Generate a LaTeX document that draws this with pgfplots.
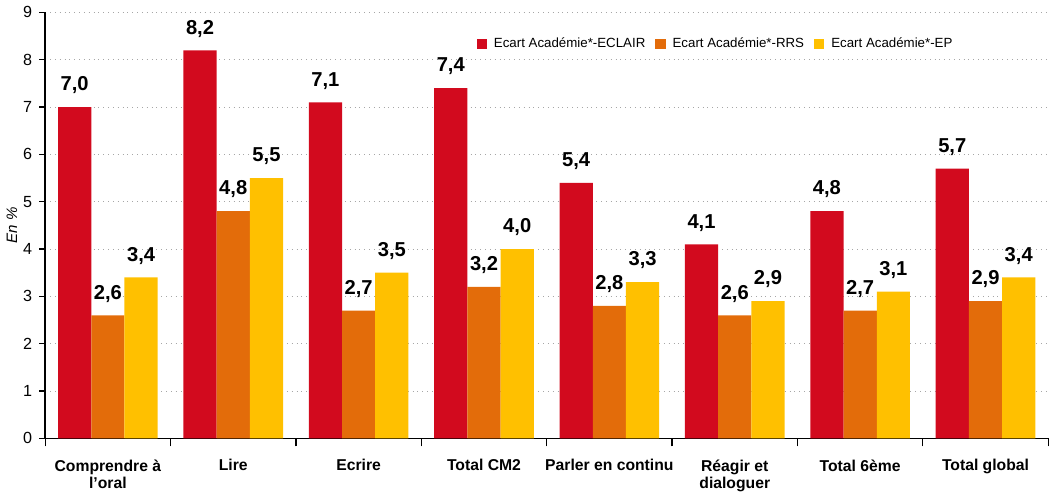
\documentclass[border=0pt]{standalone}
\usepackage{pgfplots}
\pgfplotsset{compat=1.18}
\usepackage{fontspec}
\setmainfont{Liberation Sans}
\definecolor{cRed}{HTML}{D20A1E}
\definecolor{cOrange}{HTML}{E36C0A}
\definecolor{cYellow}{HTML}{FFC000}
\begin{document}
\begin{tikzpicture}
\begin{axis}[
  scale only axis,
  width=498pt, height=211.5pt,
  xmin=-0.5, xmax=7.5,
  ymin=0, ymax=9,
  ytick={0,1,...,9},
  axis lines*=left,
  axis line style={black, line width=0.8pt},
  ymajorgrids,
  grid style={gray!70, dotted, line width=0.5pt},
  xtick={0,...,7},
  xticklabels={{Comprendre à\\l'oral},Lire,Ecrire,Total CM2,Parler en continu,{Réagir et\\dialoguer},Total 6ème,Total global},
  xticklabel style={font=\fontsize{7.8}{8.6}\selectfont\bfseries, align=center, anchor=north, yshift=-4pt},
  major x tick style={draw=none},
  minor xtick={-0.5,0.5,...,7.5},
  minor x tick style={black, line width=0.6pt},
  minor tick length=4pt,
  tick align=outside,
  major y tick style={black, line width=0.6pt},
  major tick length=3pt,
  yticklabel style={font=\fontsize{8}{9}\selectfont},
  /pgf/number format/assume math mode=true,
  ylabel={\itshape En \%},
  ylabel style={font=\fontsize{7.5}{9}\selectfont, yshift=-4pt},
  ybar, bar width=0.265,
  nodes near coords={\pgfmathprintnumber[fixed,fixed zerofill,precision=1,use comma,assume math mode=true]{\pgfplotspointmeta}},
  nodes near coords style={font=\fontsize{10}{10}\selectfont\bfseries, yshift=3pt},
  legend columns=3,
  legend style={at={(0.915,0.925)}, anchor=east, draw=none, fill=white,
    font=\fontsize{6.6}{8}\selectfont, column sep=1.5pt,
    /tikz/every even column/.append style={column sep=3pt}},
  legend image code/.code={\fill[#1] (0pt,-2.5pt) rectangle (5pt,2.5pt);},
]
\addplot[fill=cRed, draw=none, bar shift=-0.265] coordinates {(0,7.0) (1,8.2) (2,7.1) (3,7.4) (4,5.4) (5,4.1) (6,4.8) (7,5.7)};
\addplot[fill=cOrange, draw=none, bar shift=0] coordinates {(0,2.6) (1,4.8) (2,2.7) (3,3.2) (4,2.8) (5,2.6) (6,2.7) (7,2.9)};
\addplot[fill=cYellow, draw=none, bar shift=0.265] coordinates {(0,3.4) (1,5.5) (2,3.5) (3,4.0) (4,3.3) (5,2.9) (6,3.1) (7,3.4)};
\legend{Ecart Académie*-ECLAIR, Ecart Académie*-RRS, Ecart Académie*-EP}
\end{axis}
\end{tikzpicture}
\end{document}
